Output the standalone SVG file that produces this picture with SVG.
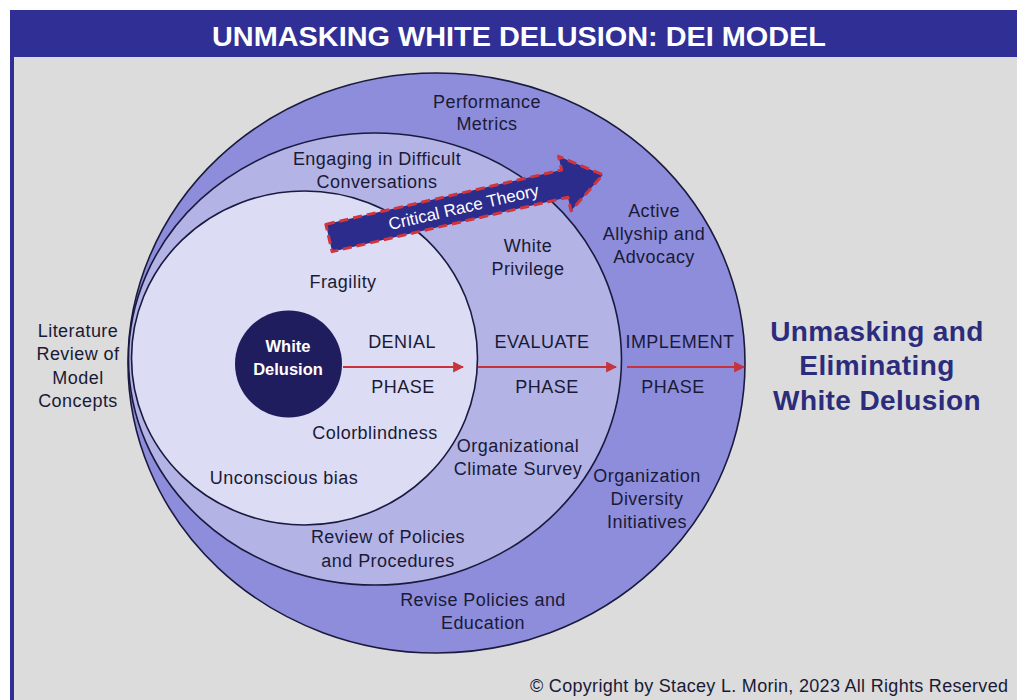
<svg xmlns="http://www.w3.org/2000/svg" width="1017" height="700" viewBox="0 0 1017 700">
<style>
.t{font-family:"Liberation Sans",Arial,sans-serif;font-size:18px;fill:#1a1a36;text-anchor:middle;letter-spacing:0.45px}
.big{font-family:"Liberation Sans",Arial,sans-serif;font-size:28px;font-weight:bold;fill:#2c2c7c;text-anchor:middle;letter-spacing:0.4px}
.ring{stroke:#1a1a3e;stroke-width:1.6}
.ph{stroke:#c8323c;stroke-width:2.2;fill:none;marker-end:url(#ah)}
</style>
<defs>
<marker id="ah" viewBox="0 0 10 10" refX="9" refY="5" markerWidth="5" markerHeight="5" orient="auto" markerUnits="strokeWidth">
<path d="M0,0 L10,5 L0,10 Z" fill="#c8323c"/>
</marker>
</defs>
<rect x="0" y="0" width="1017" height="700" fill="#ffffff"/>
<rect x="14" y="57" width="1003" height="643" fill="#dcdcdc"/>
<rect x="10" y="10" width="1007" height="47" fill="#302f95"/>
<rect x="10" y="10" width="4" height="690" fill="#302f95"/>
<text x="519" y="46" font-family="'Liberation Sans',Arial,sans-serif" font-size="27" font-weight="bold" fill="#ffffff" text-anchor="middle" textLength="614" lengthAdjust="spacingAndGlyphs">UNMASKING WHITE DELUSION: DEI MODEL</text>

<g id="implement-ring"><ellipse class="ring" cx="436.5" cy="363" rx="308.5" ry="290" fill="#8d8ddc"/></g>
<g id="evaluate-ring"><ellipse class="ring" cx="375" cy="359" rx="246.5" ry="226" fill="#b3b3e6"/></g>
<g id="denial-ring"><ellipse class="ring" cx="304.5" cy="358" rx="173" ry="167" fill="#dcdcf4"/></g>
<g id="white-delusion"><circle cx="288.5" cy="364" r="53.5" fill="#1f1d5e"/>
<text x="288" y="352" font-family="'Liberation Sans',Arial,sans-serif" font-size="16.5" font-weight="bold" fill="#ffffff" text-anchor="middle">White</text>
<text x="288" y="375" font-family="'Liberation Sans',Arial,sans-serif" font-size="16.5" font-weight="bold" fill="#ffffff" text-anchor="middle">Delusion</text></g>

<g id="connectors">
<line class="ph" x1="343" y1="367" x2="463" y2="367"/>
<line class="ph" x1="478" y1="367" x2="616" y2="367"/>
<line class="ph" x1="627" y1="367" x2="744" y2="367"/>
</g>

<g id="crt-arrow" transform="translate(329,238) rotate(-13)">
<path d="M0,-14 L242,-14 L242,-28 L281,0 L242,28 L242,14 L0,14 Z" fill="#2c2c8c" stroke="#d0343c" stroke-width="3" stroke-dasharray="9,5" stroke-linejoin="round"/>
<text x="138" y="6" font-family="'Liberation Sans',Arial,sans-serif" font-size="17" fill="#ffffff" text-anchor="middle">Critical Race Theory</text>
</g>

<g id="labels">
<text class="t" x="487" y="108">Performance</text>
<text class="t" x="487" y="130">Metrics</text>
<text class="t" x="377" y="165">Engaging in Difficult</text>
<text class="t" x="377" y="188">Conversations</text>
<text class="t" x="654" y="217">Active</text>
<text class="t" x="654" y="240">Allyship and</text>
<text class="t" x="654" y="263">Advocacy</text>
<text class="t" x="528" y="252">White</text>
<text class="t" x="528" y="275">Privilege</text>
<text class="t" x="343" y="288">Fragility</text>
<text class="t" x="78" y="337">Literature</text>
<text class="t" x="78" y="360">Review of</text>
<text class="t" x="78" y="384">Model</text>
<text class="t" x="78" y="407">Concepts</text>
<text class="t" x="402" y="348">DENIAL</text>
<text class="t" x="403" y="393">PHASE</text>
<text class="t" x="542" y="348">EVALUATE</text>
<text class="t" x="547" y="393">PHASE</text>
<text class="t" x="680" y="348">IMPLEMENT</text>
<text class="t" x="673" y="393">PHASE</text>
<text class="t" x="375" y="439">Colorblindness</text>
<text class="t" x="518" y="452">Organizational</text>
<text class="t" x="518" y="475">Climate Survey</text>
<text class="t" x="647" y="482">Organization</text>
<text class="t" x="647" y="505">Diversity</text>
<text class="t" x="647" y="528">Initiatives</text>
<text class="t" x="284" y="484">Unconscious bias</text>
<text class="t" x="388" y="543">Review of Policies</text>
<text class="t" x="388" y="567">and Procedures</text>
<text class="t" x="483" y="606">Revise Policies and</text>
<text class="t" x="483" y="629">Education</text>
<text class="big" x="877" y="341">Unmasking and</text>
<text class="big" x="877" y="375">Eliminating</text>
<text class="big" x="877" y="410">White Delusion</text>
<text x="530" y="692" font-family="'Liberation Sans',Arial,sans-serif" font-size="18" fill="#1a1a36" letter-spacing="0.3">© Copyright by Stacey L. Morin, 2023 All Rights Reserved</text>
</g>
</svg>
